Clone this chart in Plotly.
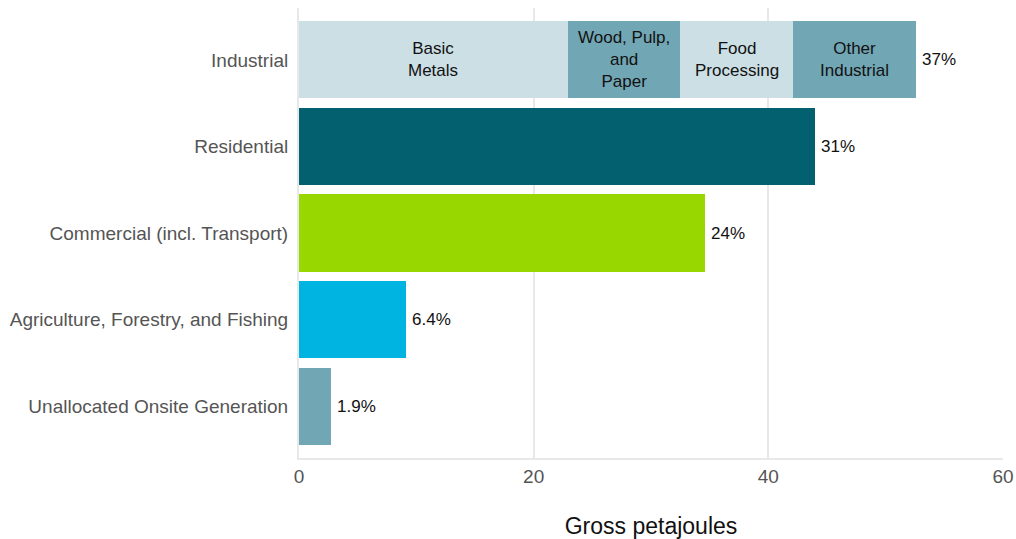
import plotly.graph_objects as go

categories = ["Industrial", "Residential", "Commercial (incl. Transport)",
              "Agriculture, Forestry, and Fishing", "Unallocated Onsite Generation"]
industrial_segments = ["Basic<br>Metals", "Wood, Pulp,<br>and<br>Paper", "Food<br>Processing", "Other<br>Industrial"]
industrial_values = [22.9, 9.6, 9.6, 10.5]
other_values = [44.0, 34.6, 9.1, 2.7]
pct_labels = ["37%", "31%", "24%", "6.4%", "1.9%"]

seg_colors = ["#ccdfe5", "#71a6b4", "#ccdfe5", "#71a6b4"]
other_colors = ["#02606f", "#99d700", "#00b4e1", "#71a6b4"]
FONT = "Liberation Sans, Arial, sans-serif"

fig = go.Figure()
start = 0.0
for name, val, col in zip(industrial_segments, industrial_values, seg_colors):
    fig.add_trace(go.Bar(
        y=[categories[0]], x=[val], orientation="h", marker=dict(color=col, line_width=0),
        hoverinfo="skip", showlegend=False, width=0.89,
    ))
    fig.add_annotation(x=start + val / 2, y=categories[0], text=name, showarrow=False,
                       font=dict(family=FONT, size=17, color="#111111"))
    start += val
fig.add_trace(go.Bar(
    y=categories[1:], x=other_values, orientation="h",
    marker=dict(color=other_colors, line_width=0), width=0.89,
    hoverinfo="skip", showlegend=False,
))

totals = [sum(industrial_values)] + other_values
for cat, tot, lab in zip(categories, totals, pct_labels):
    fig.add_annotation(x=tot, y=cat, text=lab, showarrow=False, xanchor="left",
                       xshift=4, font=dict(family=FONT, size=17, color="#111111"))

fig.update_layout(
    barmode="stack",
    width=1016, height=539,
    margin=dict(l=299, r=13, t=8, b=81),
    plot_bgcolor="white", paper_bgcolor="white",
    font=dict(family=FONT),
    xaxis=dict(range=[0, 60], tickvals=[0, 20, 40, 60], showgrid=True, automargin=False,
               gridcolor="#e8e8e8", gridwidth=2, zeroline=False,
               tickfont=dict(size=19, color="#555555"), ticks="", ticklen=0,
               ticklabeloverflow="allow",
               title=dict(text="Gross petajoules", font=dict(size=23, color="#111111"), standoff=32),
               showline=True, linecolor="#e8e8e8", linewidth=2),
    yaxis=dict(categoryorder="array", categoryarray=categories, autorange=False, automargin=False,
               range=[4.6, -0.6], tickfont=dict(size=19, color="#555555"),
               showgrid=False, ticks="", ticklabelstandoff=5,
               showline=True, linecolor="#e8e8e8", linewidth=2),
)
fig.write_html("out.html", config={"displayModeBar": False},
               post_script="document.body.style.margin='0';document.body.style.overflow='hidden';document.documentElement.style.overflow='hidden';")
